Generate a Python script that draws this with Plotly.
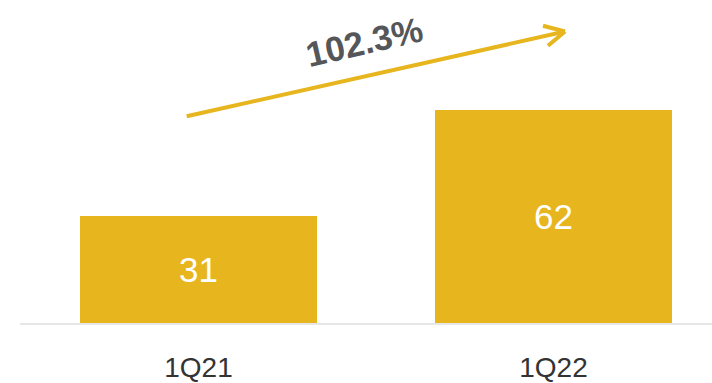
import plotly.graph_objects as go

# Quarterly values
quarters = ["1Q21", "1Q22"]
values = [31, 62]
growth_label = "102.3%"

GOLD = "#E7B51D"
W, H = 712, 383
M_L, M_R, M_T, M_B = 20, 0, 0, 57

# axis ranges (category index on x, value on y)
X_RANGE = [-0.5028, 1.4465]
Y_RANGE = [0, 93.9]

fig = go.Figure()
fig.add_trace(go.Bar(
    x=quarters,
    y=values,
    width=0.668,
    marker=dict(color=GOLD, line=dict(width=0)),
    text=[str(v) for v in values],
    textposition="inside",
    insidetextanchor="middle",
    textfont=dict(color="white", size=35, family="Liberation Sans, Arial, sans-serif"),
    cliponaxis=False,
    hoverinfo="skip",
))

# growth arrow: shaft plus an open chevron head
tail = (-0.0332, 60.1)
tip = (1.0324, 84.74)
wing_up = (0.9704, 86.4)
wing_dn = (0.9845, 80.6)
for p0, p1 in [(tail, tip), (wing_up, tip), (wing_dn, tip)]:
    fig.add_shape(type="line", xref="x", yref="y",
                  x0=p0[0], y0=p0[1], x1=p1[0], y1=p1[1],
                  line=dict(color=GOLD, width=4))

fig.add_annotation(
    text=f"<b>{growth_label}</b>",
    xref="paper", yref="paper",
    x=0.4985, y=0.87,
    xanchor="center", yanchor="middle",
    textangle=-13,
    showarrow=False,
    font=dict(size=35, color="#54565A", family="Liberation Sans, Arial, sans-serif"),
)

fig.update_layout(
    width=W, height=H,
    margin=dict(l=M_L, r=M_R, t=M_T, b=M_B),
    paper_bgcolor="white",
    plot_bgcolor="white",
    showlegend=False,
    bargap=0,
    xaxis=dict(
        range=X_RANGE,
        showgrid=False, zeroline=False,
        showline=True, linecolor="#E6E6E6", linewidth=2,
        ticks="", ticklen=0,
        tickfont=dict(size=28, color="#333333", family="Liberation Sans, Arial, sans-serif"),
        fixedrange=True,
    ),
    yaxis=dict(
        range=Y_RANGE,
        visible=False,
        fixedrange=True,
    ),
)
fig.update_xaxes(ticklabelstandoff=18)

fig.write_html("out.html", config={"displayModeBar": False})
